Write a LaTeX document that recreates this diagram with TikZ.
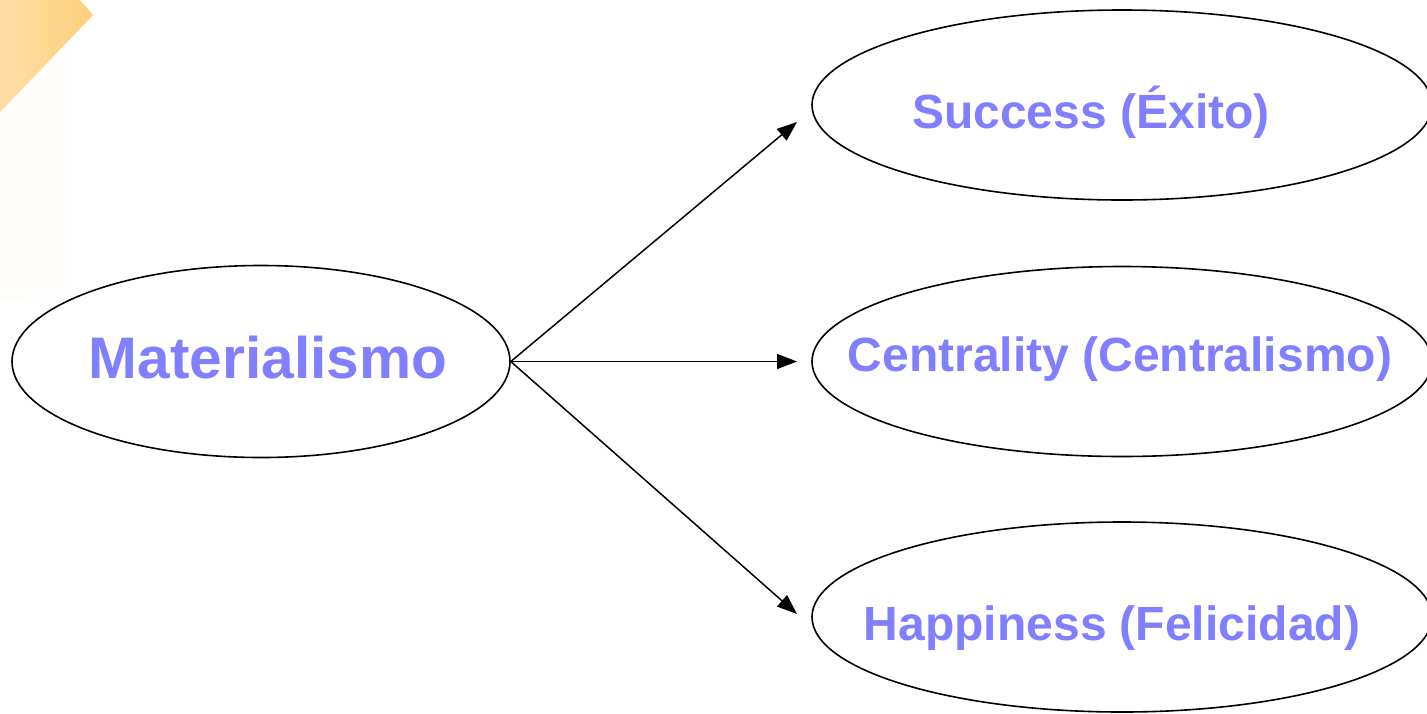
\documentclass[tikz,border=0pt]{standalone}
\usepackage{fontspec}
\setmainfont{Liberation Sans}
\usetikzlibrary{shapes.geometric,arrows.meta}
\definecolor{txtblue}{HTML}{7F7FFF}
\definecolor{corner}{HTML}{FDD07A}
\definecolor{cornerl}{HTML}{FEDDA6}
\begin{document}
\begin{tikzpicture}[x=1pt,y=-1pt,
  oval/.style={draw=black,line width=1.6pt,shape=ellipse,inner sep=0pt},
  lbl/.style={text=txtblue,font=\bfseries,inner sep=0pt,anchor=base},
  link/.style={line width=1.5pt,-{Triangle[length=20pt,width=15pt]}}]
\useasboundingbox (0,0) rectangle (1427,713);
\fill[white] (0,0) rectangle (1427,713);
% very faint background band at left
\fill[left color=cornerl!6,right color=white] (0,0) rectangle (95,300);
% orange corner
\shade[left color=cornerl,right color=corner] (0,0) -- (80,0) -- (93,15) -- (0,112) -- cycle;
% ellipses
\node[oval,minimum width=498pt,minimum height=192pt] (m) at (261,361.5) {};
\node[oval,minimum width=620pt,minimum height=190pt] (s) at (1122,105) {};
\node[oval,minimum width=620pt,minimum height=190pt] (c) at (1122,361.5) {};
\node[oval,minimum width=620pt,minimum height=190pt] (h) at (1122,617) {};
% labels
\node[lbl,font=\bfseries\fontsize{58.6}{58.6}\selectfont] (tm) at (268,378) {Materialismo};
\node[lbl,font=\bfseries\fontsize{48}{48}\selectfont] (ts) at (1091,128) {Success (Éxito)};
\node[lbl,font=\bfseries\fontsize{48}{48}\selectfont] (tc) at (1120,371) {Centrality (Centralismo)};
\node[lbl,font=\bfseries\fontsize{48}{48}\selectfont] (th) at (1112,640) {Happiness (Felicidad)};
% arrow ends
\coordinate (es) at (797,122);
\coordinate (ec) at (797,361.5);
\coordinate (eh) at (797,614);
\draw[link] (m.east) -- (es);
\draw[link] (m.east) -- (ec);
\draw[link] (m.east) -- (eh);
\end{tikzpicture}
\end{document}
